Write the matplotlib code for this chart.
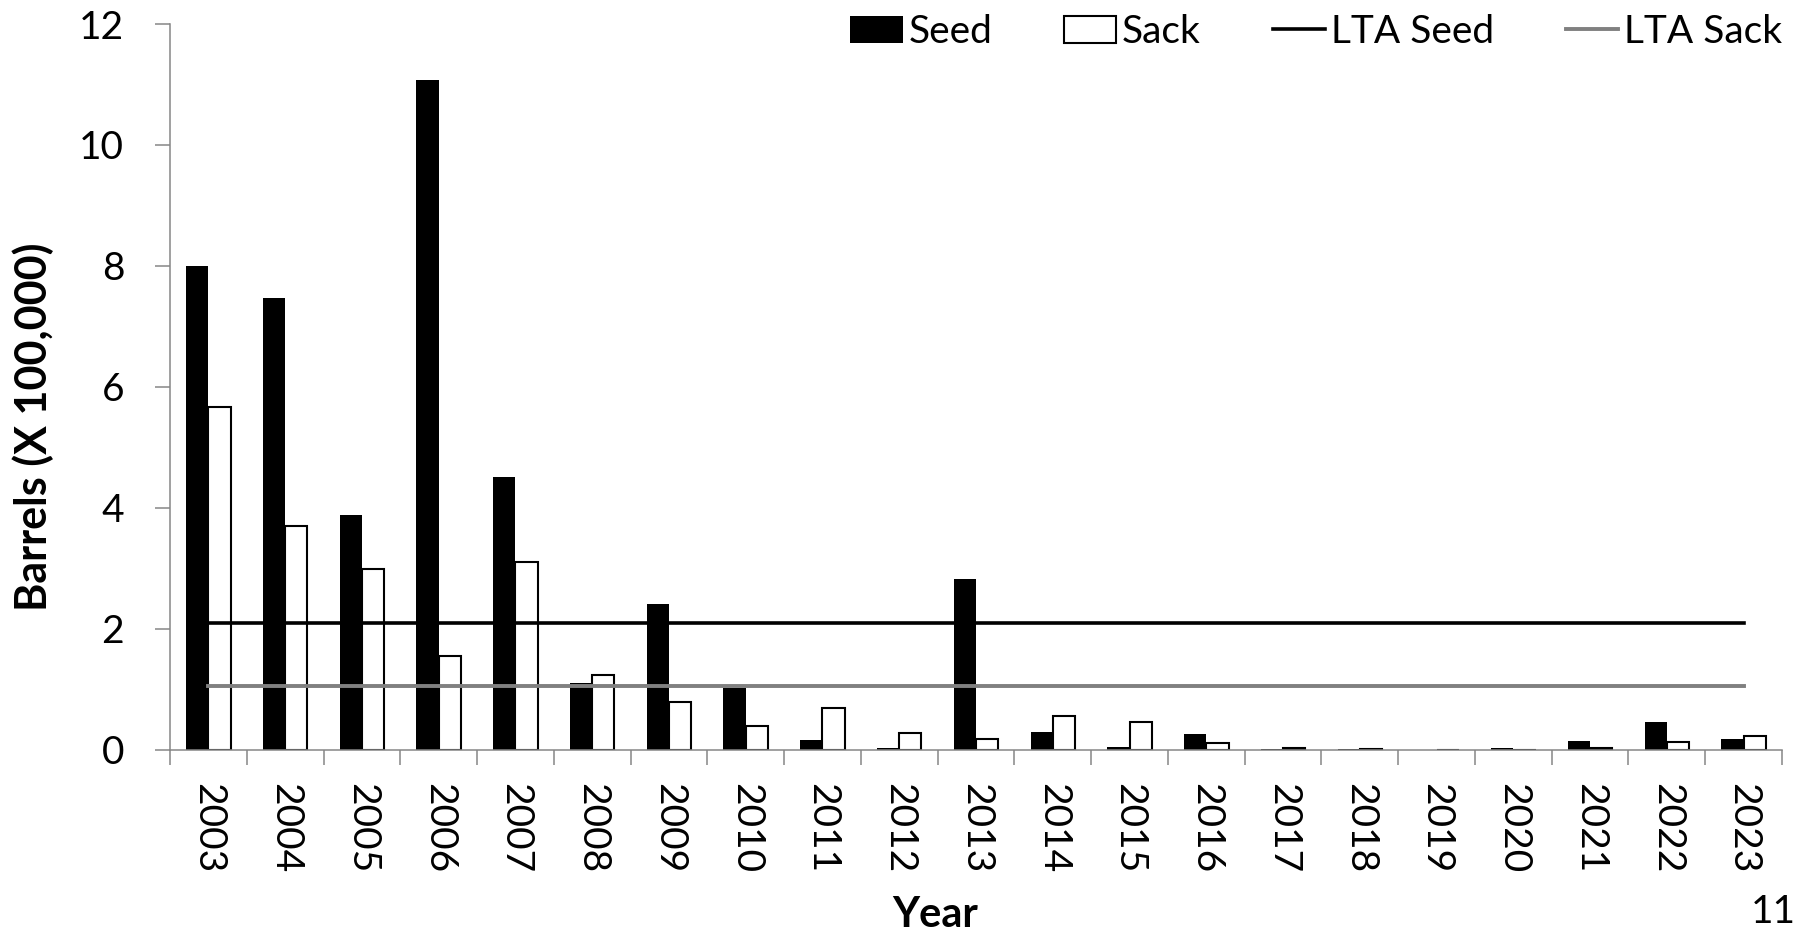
import numpy as np
import matplotlib.pyplot as plt

plt.rcParams['font.family'] = ['Lato', 'DejaVu Sans']

years = [str(y) for y in range(2003, 2024)]
seed = [8.0, 7.47, 3.88, 11.07, 4.50, 1.10, 2.41, 1.02, 0.15, 0.03, 2.82,
        0.29, 0.04, 0.25, 0.015, 0.005, 0.0, 0.02, 0.14, 0.45, 0.18]
sack = [5.67, 3.70, 2.99, 1.55, 3.10, 1.24, 0.79, 0.39, 0.68, 0.27, 0.18,
        0.56, 0.45, 0.10, 0.03, 0.01, 0.0, 0.0, 0.02, 0.12, 0.22]
lta_seed = 2.10
lta_sack = 1.05

W, H = 1797, 933
fig = plt.figure(figsize=(W / 100, H / 100), dpi=100)
ax = fig.add_axes([170 / W, 1 - 749.5 / H, (1782 - 170) / W, (749.5 - 24) / H])

x = np.arange(len(years))
w = 0.29
b1 = ax.bar(x - w / 2, seed, w, color='black', label='Seed', zorder=2)
b2 = ax.bar(x + w / 2, sack, w, color='white', edgecolor='black', linewidth=1.5,
            label='Sack', zorder=2)
l1, = ax.plot([x[0], x[-1]], [lta_seed, lta_seed], color='black', lw=2.6,
              label='LTA Seed', zorder=3)
l2, = ax.plot([x[0], x[-1]], [lta_sack, lta_sack], color='#808080', lw=2.8,
              label='LTA Sack', zorder=3)

ax.set_xlim(-0.5, len(years) - 0.5)
ax.set_ylim(0, 12)
ax.set_yticks(range(0, 13, 2))
ax.set_xticks(x)
ax.set_xticklabels(years, rotation=-90)
ax.set_xticks(np.arange(-0.5, len(years)), minor=True)

for s in ['top', 'right']:
    ax.spines[s].set_visible(False)
for s in ['left', 'bottom']:
    ax.spines[s].set_color('#868686')
    ax.spines[s].set_linewidth(1.1)

ax.tick_params(axis='y', direction='out', length=11, width=1.1,
               color='#868686', labelsize=28, pad=22)
ax.tick_params(axis='x', which='major', length=0, labelsize=28, pad=24)
ax.tick_params(axis='x', which='minor', direction='out', length=11,
               width=1.1, color='#868686')

fig.text(33 / W, 1 - 427 / H, 'Barrels (X 100,000)', rotation=90,
         ha='center', va='center', fontsize=31, fontweight='bold')
fig.text(935 / W, 6 / H, 'Year', ha='center', va='baseline',
         fontsize=30, fontweight='bold')
fig.text(1796 / W, 10 / H, '11', ha='right', va='baseline', fontsize=28)

fig.legend([b1, b2, l1, l2], ['Seed', 'Sack', 'LTA Seed', 'LTA Sack'],
           loc='center right', bbox_to_anchor=(1782 / W, 1 - 32 / H),
           ncol=4, frameon=False, fontsize=28, borderpad=0,
           borderaxespad=0, handlelength=1.34, handleheight=0.72,
           handletextpad=0.15, columnspacing=1.85)

fig.savefig('out.png', dpi=100)
